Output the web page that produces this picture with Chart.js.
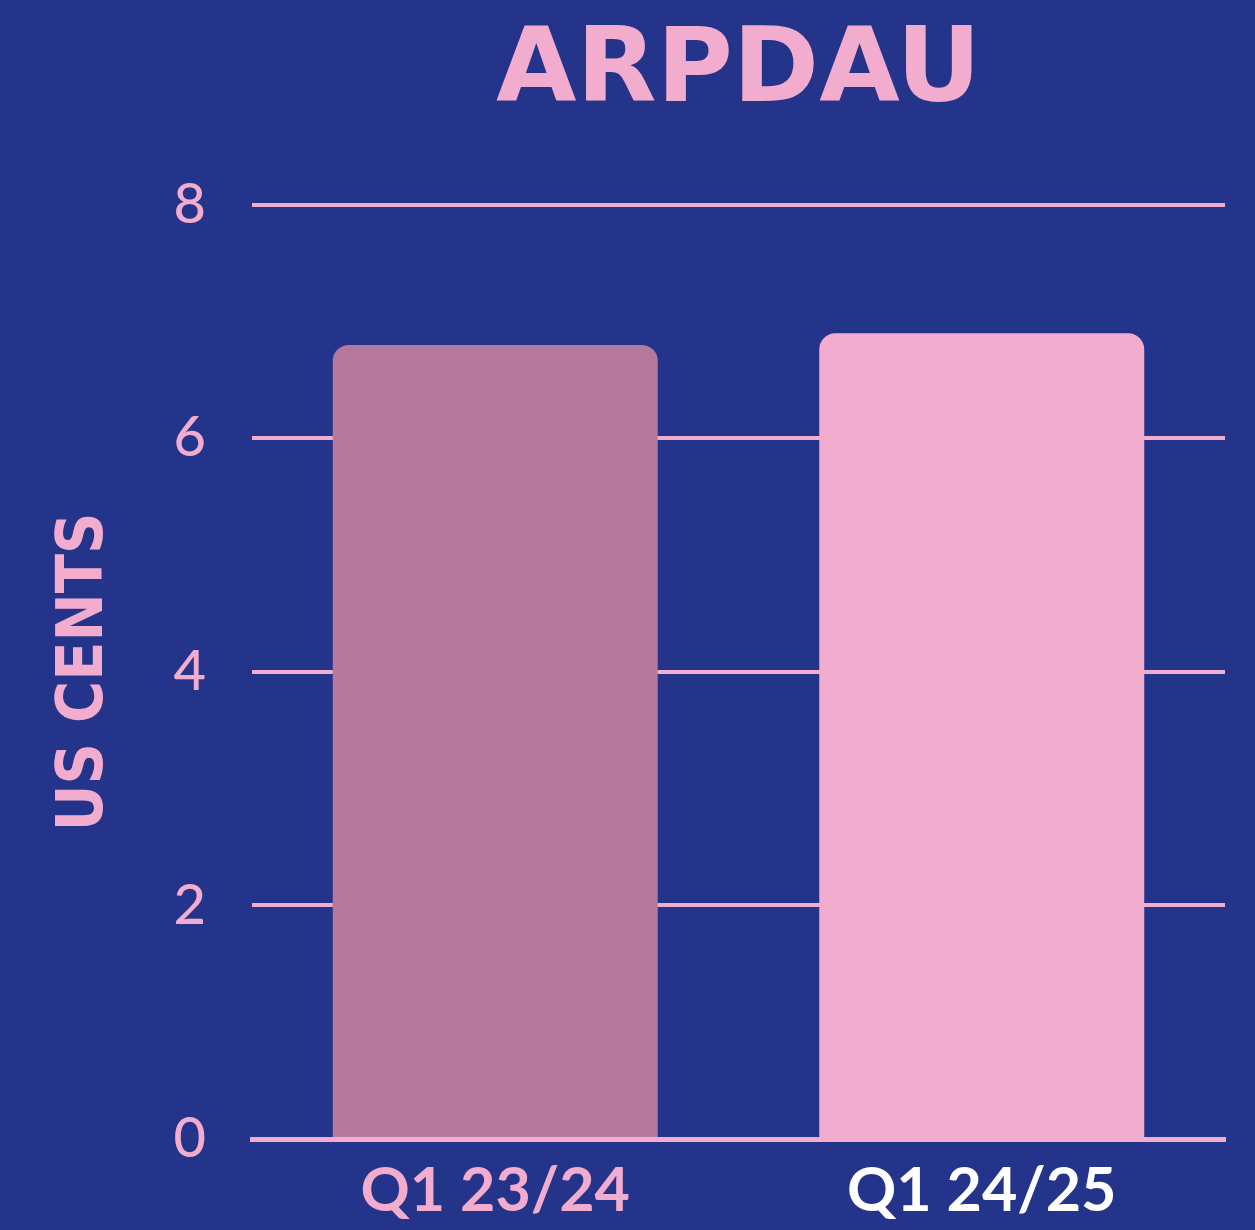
<!DOCTYPE html>
<html>
<head>
<meta charset="utf-8">
<script src="https://cdn.jsdelivr.net/npm/chart.js@4.4.1/dist/chart.umd.min.js"></script>
<style>
  html,body{margin:0;padding:0;background:#24348a;}
  #wrap{width:1255px;height:1230px;position:relative;}
</style>
</head>
<body>
<div id="wrap"><canvas id="arpdauChart"></canvas></div>
<script>
// ARPDAU (US cents) — 분기 비교
const quarters = ["Q1 23/24", "Q1 24/25"];
const arpdau = [6.8, 6.9];
const yTicks = [0, 2, 4, 6, 8];

const PINK = "#f2accd";
const MAUVE = "#b5799d";

const ctx = document.getElementById("arpdauChart");
new Chart(ctx, {
  type: "bar",
  data: {
    labels: quarters,
    datasets: [{
      label: "ARPDAU",
      data: arpdau,
      backgroundColor: [MAUVE, PINK],
      borderRadius: {topLeft: 16, topRight: 16, bottomLeft: 0, bottomRight: 0},
      borderSkipped: "start",
      barPercentage: 0.668,
      categoryPercentage: 1,
    }]
  },
  options: {
    responsive: true, maintainAspectRatio: false, animation: false,
    layout: {padding: {left: 0, right: 30, top: 0, bottom: 0}},
    plugins: {
      legend: {display: false},
      tooltip: {enabled: false},
      title: {
        display: true, text: "ARPDAU", color: PINK, fullSize: false,
        font: {family: "DejaVu Sans", size: 104, weight: "bold", lineHeight: 1.2},
        padding: {top: 12, bottom: 68},
      }
    },
    scales: {
      x: {
        z: 1,
        grid: {display: false, drawTicks: false},
        border: {display: true, color: PINK, width: 5},
        ticks: {
          color: [PINK, "#ffffff"], padding: 16,
          font: {family: "Lato", size: 61, weight: "bold", lineHeight: 1.2},
        },
        afterFit: s => { s.height = 91; },
      },
      y: {
        min: 0, max: 8,
        afterBuildTicks: s => { s.ticks = yTicks.map(v => ({value: v})); },
        grid: {color: PINK, lineWidth: 4, drawTicks: false},
        border: {display: false},
        ticks: {
          color: PINK, padding: 46,
          font: {family: "Lato", size: 56, weight: "500", lineHeight: 1.2},
        },
        title: {
          display: true, text: "US CENTS", color: PINK,
          font: {family: "DejaVu Sans Condensed", size: 64, weight: "bold", lineHeight: 1.2},
          padding: {top: 47, bottom: 0},
        },
        afterFit: s => { s.width = 252; },
      }
    }
  }
});
</script>
</body>
</html>
